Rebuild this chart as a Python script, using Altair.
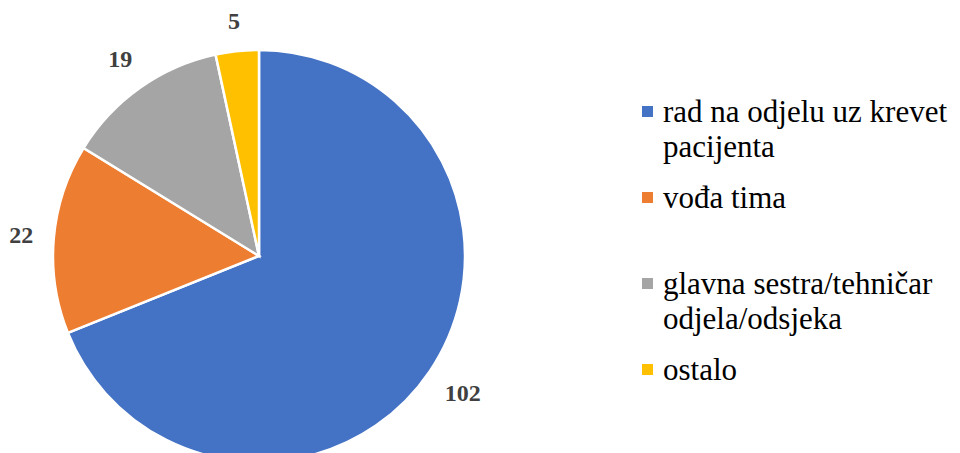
import altair as alt
import pandas as pd
import json

categories = ["rad na odjelu uz krevet pacijenta", "vođa tima",
              "glavna sestra/tehničar odjela/odsjeka", "ostalo"]
values = [102, 22, 19, 5]
colors = ["#4472C4", "#ED7D31", "#A5A5A5", "#FFC000"]
legend_lines = {
    "rad na odjelu uz krevet pacijenta": ["rad na odjelu uz krevet", "pacijenta"],
    "vođa tima": ["vođa tima", " "],
    "glavna sestra/tehničar odjela/odsjeka": ["glavna sestra/tehničar", "odjela/odsjeka"],
    "ostalo": ["ostalo"],
}

df = pd.DataFrame({"kategorija": categories, "vrijednost": values,
                   "red": list(range(len(categories)))})

label_expr = json.dumps(legend_lines, ensure_ascii=False) + "[datum.label]"

pie = alt.Chart(df).mark_arc(outerRadius=206, stroke="white", strokeWidth=2.5).encode(
    theta=alt.Theta("vrijednost:Q", stack=True),
    order=alt.Order("red:Q"),
    x=alt.value(251),
    y=alt.value(248),
    color=alt.Color(
        "kategorija:N",
        scale=alt.Scale(domain=categories, range=colors),
        sort=categories,
        legend=alt.Legend(
            title=None,
            orient="none",
            legendX=624,
            legendY=98,
            labelExpr=label_expr,
            labelFont="Liberation Serif",
            labelFontSize=31,
            labelColor="#000000",
            labelBaseline="alphabetic",
            labelOffset=0,
            labelLimit=400,
            symbolType="M-1,-2.82H1V-0.82H-1Z",
            symbolSize=121,
            symbolStrokeWidth=0,
            rowPadding=19,
            padding=0,
        ),
    ),
)

# outside-end labels: keep a constant gap between the pie edge and the label box
labels = (
    alt.Chart(df)
    .transform_window(cum="sum(vrijednost)", sort=[alt.SortField("red")],
                      frame=[None, 0])
    .transform_joinaggregate(total="sum(vrijednost)")
    .transform_calculate(
        mid="(datum.cum - datum.vrijednost / 2) / datum.total * 2 * PI",
        r="226 + abs(sin(datum.mid)) * length(toString(datum.vrijednost)) * 6"
          " + abs(cos(datum.mid)) * 9",
    )
    .mark_text(
        font="Liberation Serif",
        fontSize=24,
        fontWeight="bold",
        color="#404040",
        align="center",
        baseline="middle",
    )
    .encode(
        x=alt.value(251),
        y=alt.value(248),
        theta=alt.Theta("mid:Q", scale=None),
        radius=alt.Radius("r:Q", scale=None),
        text=alt.Text("vrijednost:Q"),
    )
)

chart = (
    alt.layer(pie, labels)
    .properties(width=944, height=445, padding=0, autosize="none")
    .configure(
        view={"stroke": None},
        style={"guide-label": {"font": "Liberation Serif", "fontSize": 31,
                               "lineHeight": 35, "fill": "#000000"}},
    )
)

chart.save("out.html", embed_options={"renderer": "svg", "actions": False})
